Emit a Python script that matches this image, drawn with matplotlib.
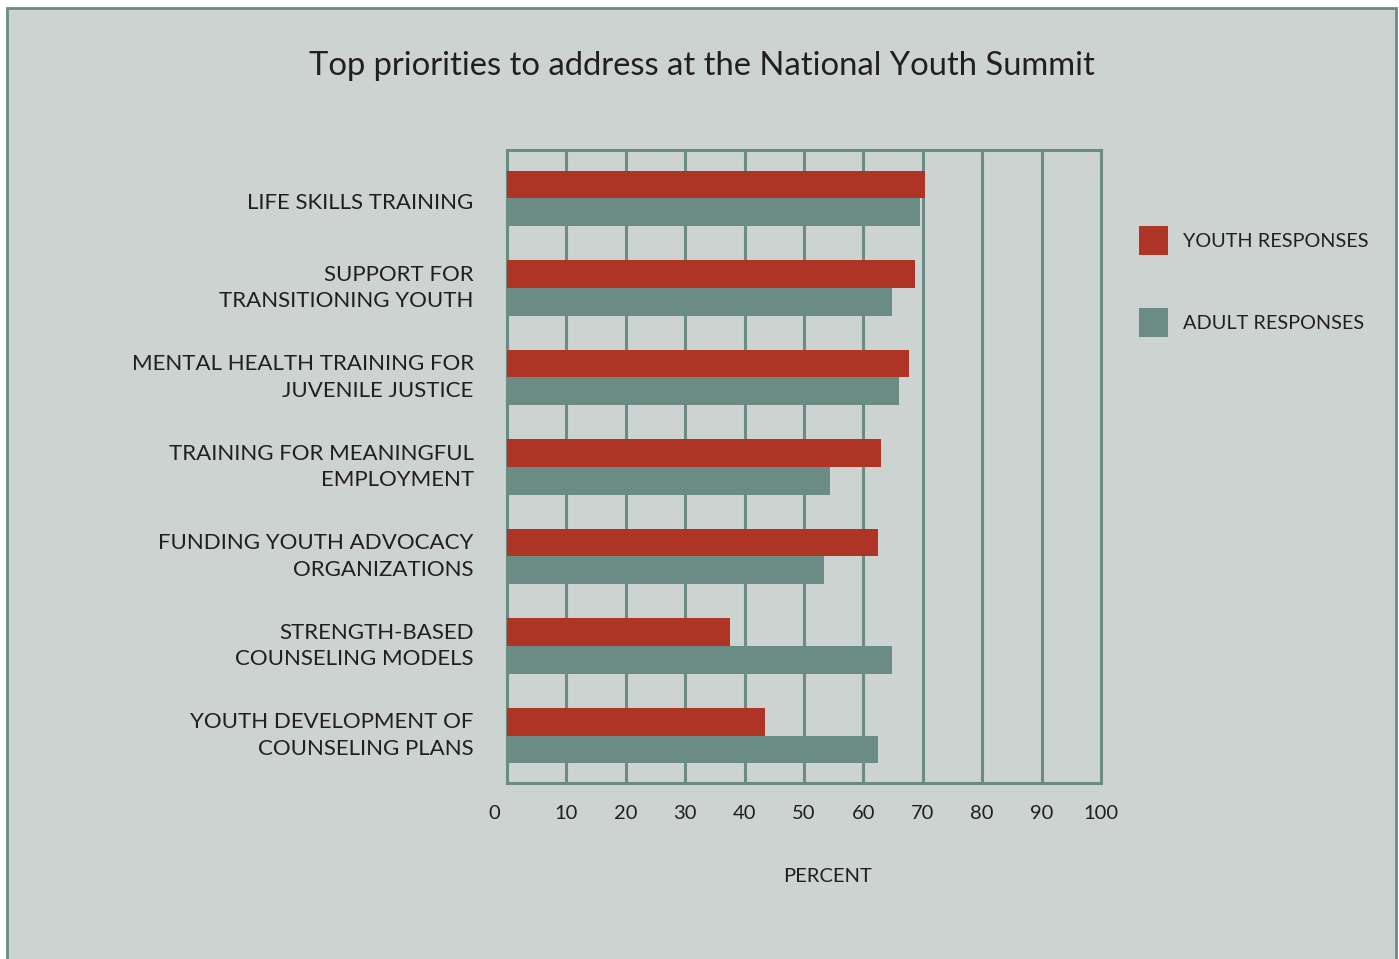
import matplotlib
matplotlib.use("Agg")
import matplotlib.pyplot as plt
from matplotlib.patches import Rectangle
from matplotlib.transforms import ScaledTranslation

# data (percent)
categories = ["LIFE SKILLS TRAINING",
              "SUPPORT FOR\nTRANSITIONING YOUTH",
              "MENTAL HEALTH TRAINING FOR\nJUVENILE JUSTICE",
              "TRAINING FOR MEANINGFUL\nEMPLOYMENT",
              "FUNDING YOUTH ADVOCACY\nORGANIZATIONS",
              "STRENGTH-BASED\nCOUNSELING MODELS",
              "YOUTH DEVELOPMENT OF\nCOUNSELING PLANS"]
youth = [70.4, 68.7, 67.7, 63.0, 62.5, 37.6, 43.4]
adult = [69.5, 64.8, 66.0, 54.4, 53.4, 64.8, 62.5]
xticks = [0, 10, 20, 30, 40, 50, 60, 70, 80, 90, 100]

bg = "#CCD3D1"
teal = "#6B8C84"
red = "#AE3426"
txt = "#231F20"

plt.rcParams['font.family'] = ['Lato', 'DejaVu Sans']

fig = plt.figure(figsize=(13.99, 9.59), dpi=100)
fig.patch.set_facecolor("white")

# panel background with border
fig.patches.append(Rectangle((7/1399, -0.01), 1389/1399, 0.01 + 951/959,
                             transform=fig.transFigure, facecolor=bg,
                             edgecolor=teal, linewidth=2, zorder=-5))

fig.text(0.502, 1 - 66/959, "Top priorities to address at the National Youth Summit",
         ha="center", va="center", fontsize=23.6, color=txt)

ax = fig.add_axes([507/1399, 176/959, 594/1399, 633/959])
ax.set_facecolor(bg)

y = list(range(len(categories)))
h = 0.31
ax.barh([v - h/2 for v in y], youth, height=h, color=red, label="YOUTH RESPONSES", zorder=3)
ax.barh([v + h/2 for v in y], adult, height=h, color=teal, label="ADULT RESPONSES", zorder=3)

ax.set_xlim(0, 100)
ax.set_ylim(6.53, -0.54)
ax.set_xticks(xticks)
ax.set_xticklabels([str(t) for t in xticks])
ax.set_yticks(y)
ax.set_yticklabels(categories, linespacing=1.4, va="center")
ax.tick_params(axis="y", length=0, pad=24, labelsize=16, labelcolor=txt)
ax.tick_params(axis="x", length=0, pad=16, labelsize=14.5, labelcolor=txt)
ax.xaxis.grid(True, color=teal, linewidth=2.2, zorder=1)
ax.set_axisbelow(True)
for s in ax.spines.values():
    s.set_color(teal)
    s.set_linewidth(2.2)

# the "0" label sits a bit left of the axis
lab0 = ax.xaxis.get_major_ticks()[0].label1
lab0.set_transform(lab0.get_transform() + ScaledTranslation(-0.13, 0, fig.dpi_scale_trans))
# single-line label sits slightly lower
laby = ax.yaxis.get_major_ticks()[0].label1
laby.set_transform(laby.get_transform() + ScaledTranslation(0, -0.05, fig.dpi_scale_trans))

ax.set_xlabel("PERCENT", fontsize=14.5, color=txt)
ax.xaxis.set_label_coords(0.539, -0.134)

fig.legend(loc="upper left", bbox_to_anchor=(1129/1399, 1 - 216/959),
           frameon=False, fontsize=14.3, handlelength=1.45, handleheight=1.9,
           labelspacing=2.65, handletextpad=0.75, borderpad=0, labelcolor=txt)

plt.savefig("out.png", dpi=100, facecolor=fig.get_facecolor())
